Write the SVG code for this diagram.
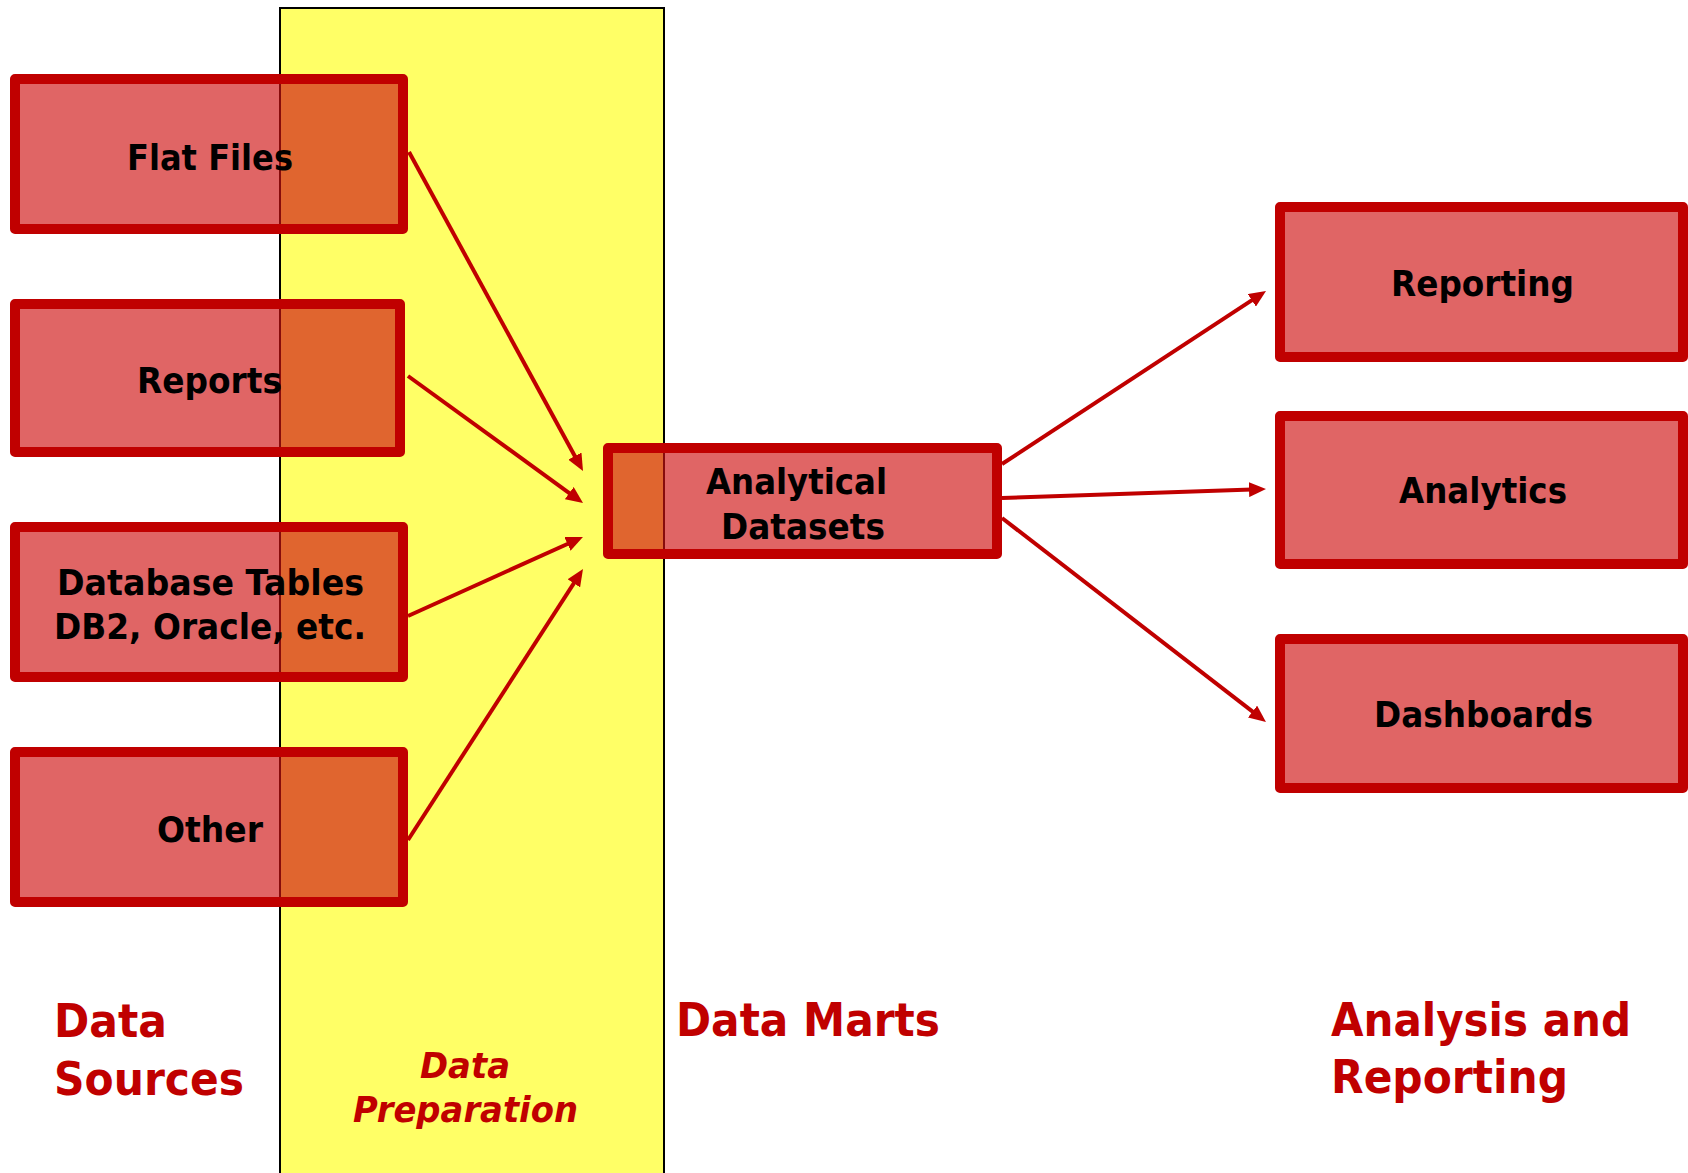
<svg xmlns="http://www.w3.org/2000/svg" width="1688" height="1173" viewBox="0 0 1688 1173">
<defs>
<style>
.box{fill:rgb(207,18,18);fill-opacity:0.65;stroke:#C00000;stroke-width:10;stroke-linejoin:round}
.nt{font-family:"DejaVu Sans","Liberation Sans",sans-serif;font-weight:bold;font-size:36px;fill:#000}
.lab{font-family:"DejaVu Sans","Liberation Sans",sans-serif;font-weight:bold;font-size:47px;fill:#C00000}
.labi{font-family:"DejaVu Sans","Liberation Sans",sans-serif;font-weight:bold;font-style:italic;font-size:36px;fill:#C00000}
.conn{stroke:#C00000;stroke-width:4;fill:none;marker-end:url(#arr)}
</style>
<marker id="arr" markerUnits="userSpaceOnUse" markerWidth="17" markerHeight="15" refX="3" refY="7.5" orient="auto">
<path d="M0,0 L17,7.5 L0,15 z" fill="#C00000"/>
</marker>
</defs>
<rect width="1688" height="1173" fill="#fff"/>
<g id="band-data-preparation">
<rect x="280" y="8" width="384" height="1180" fill="#FFFF66" stroke="#000" stroke-width="2"/>
</g>
<g id="labels">
<text class="lab" x="54" y="1037" textLength="113" lengthAdjust="spacingAndGlyphs">Data</text>
<text class="lab" x="54" y="1095" textLength="190" lengthAdjust="spacingAndGlyphs">Sources</text>
<text class="labi" x="420" y="1078" textLength="90" lengthAdjust="spacingAndGlyphs">Data</text>
<text class="labi" x="353" y="1122" textLength="225" lengthAdjust="spacingAndGlyphs">Preparation</text>
<text class="lab" x="676" y="1036" textLength="264" lengthAdjust="spacingAndGlyphs">Data Marts</text>
<text class="lab" x="1331" y="1036" textLength="300" lengthAdjust="spacingAndGlyphs">Analysis and</text>
<text class="lab" x="1331" y="1093" textLength="237" lengthAdjust="spacingAndGlyphs">Reporting</text>
</g>
<g id="node-flat-files">
<rect class="box" x="15" y="79" width="388" height="150"/>
<text class="nt" x="127" y="170" textLength="166" lengthAdjust="spacingAndGlyphs">Flat Files</text>
</g>
<g id="node-reports">
<rect class="box" x="15" y="304" width="385" height="148"/>
<text class="nt" x="137" y="393" textLength="145" lengthAdjust="spacingAndGlyphs">Reports</text>
</g>
<g id="node-database-tables">
<rect class="box" x="15" y="527" width="388" height="150"/>
<text class="nt" x="57" y="595" textLength="307" lengthAdjust="spacingAndGlyphs">Database Tables</text>
<text class="nt" x="54" y="639" textLength="312" lengthAdjust="spacingAndGlyphs">DB2, Oracle, etc.</text>
</g>
<g id="node-other">
<rect class="box" x="15" y="752" width="388" height="150"/>
<text class="nt" x="157" y="842" textLength="106" lengthAdjust="spacingAndGlyphs">Other</text>
</g>
<g id="node-analytical-datasets">
<rect class="box" x="608" y="448" width="389" height="106"/>
<text class="nt" x="706" y="494" textLength="181" lengthAdjust="spacingAndGlyphs">Analytical</text>
<text class="nt" x="721" y="539" textLength="164" lengthAdjust="spacingAndGlyphs">Datasets</text>
</g>
<g id="node-reporting">
<rect class="box" x="1280" y="207" width="403" height="150"/>
<text class="nt" x="1391" y="296" textLength="183" lengthAdjust="spacingAndGlyphs">Reporting</text>
</g>
<g id="node-analytics">
<rect class="box" x="1280" y="416" width="403" height="148"/>
<text class="nt" x="1399" y="503" textLength="168" lengthAdjust="spacingAndGlyphs">Analytics</text>
</g>
<g id="node-dashboards">
<rect class="box" x="1280" y="639" width="403" height="149"/>
<text class="nt" x="1374" y="727" textLength="219" lengthAdjust="spacingAndGlyphs">Dashboards</text>
</g>
<g id="connectors">
<line class="conn" x1="409" y1="152" x2="576.3" y2="458.7"/>
<line class="conn" x1="408" y1="376" x2="571.7" y2="494.8"/>
<line class="conn" x1="408" y1="616" x2="570.2" y2="542.7"/>
<line class="conn" x1="408" y1="840" x2="575.4" y2="580.8"/>
<line class="conn" x1="1002" y1="464" x2="1254.3" y2="298.7"/>
<line class="conn" x1="1002" y1="498" x2="1252.0" y2="489.5"/>
<line class="conn" x1="1002" y1="518" x2="1254.9" y2="713.4"/>
</g>
</svg>
